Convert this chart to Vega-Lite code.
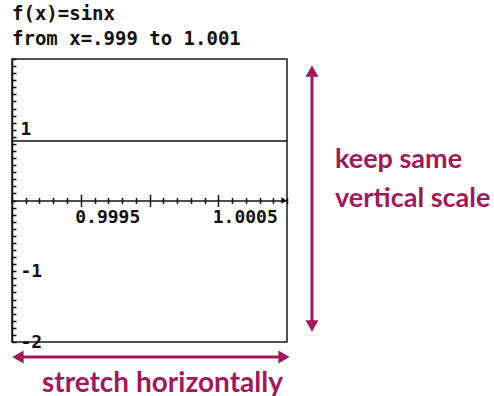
{
  "$schema": "https://vega.github.io/schema/vega-lite/v6.json",
  "autosize": {"type": "none"},
  "width": 275,
  "height": 283,
  "padding": {"left": 12, "top": 59, "right": 207, "bottom": 54},
  "background": "white",
  "title": {
    "text": "f(x)=sinx",
    "subtitle": "from x=.999 to 1.001",
    "anchor": "start",
    "frame": "group",
    "font": "DejaVu Sans Mono",
    "fontSize": 19,
    "fontWeight": "bold",
    "color": "#111",
    "subtitleFont": "DejaVu Sans Mono",
    "subtitleFontSize": 19,
    "subtitleFontWeight": "bold",
    "subtitleColor": "#111",
    "subtitlePadding": 6,
    "offset": 1
  },
  "datasets": {
    "curve": [
      {"x": 0.999, "y": 0.84093},
      {"x": 1.0, "y": 0.84147},
      {"x": 1.001, "y": 0.84201}
    ],
    "axisEnd": [{"x": 1.001, "y": 0}],
    "arrows": [
      {"x": 1.0011818, "y": 1.83, "x2": 1.0011818, "y2": -1.774},
      {"x": 0.9990436, "y": -2.212, "x2": 1.0009782, "y2": -2.212}
    ],
    "heads": [
      {"x": 1.0011818, "y": 1.83, "dir": "up"},
      {"x": 1.0011818, "y": -1.774, "dir": "down"},
      {"x": 0.9990436, "y": -2.212, "dir": "left"},
      {"x": 1.0009782, "y": -2.212, "dir": "right"}
    ],
    "sideText": [
      {"x": 1.001349, "y": 0.459, "label": "keep same"},
      {"x": 1.001349, "y": -0.092, "label": "vertical scale"}
    ],
    "bottomText": [
      {"x": 1.0000945, "y": -2.707, "label": "stretch horizontally"}
    ]
  },
  "resolve": {"axis": {"x": "independent"}},
  "layer": [
    {
      "data": {"name": "curve"},
      "mark": {"type": "line", "color": "#111", "strokeWidth": 1.5},
      "encoding": {
        "x": {
          "field": "x", "type": "quantitative",
          "scale": {"domain": [0.999, 1.001], "nice": false, "zero": false},
          "axis": {
            "orient": "bottom", "offset": -141.5, "tickCount": 50,
            "values": [0.999, 0.9991, 0.9992, 0.9993, 0.9994, 0.9995, 0.9996, 0.9997, 0.9998, 0.9999, 1.0, 1.0001, 1.0002, 1.0003, 1.0004, 1.0005, 1.0006, 1.0007, 1.0008, 1.0009, 1.001],
            "domain": true, "domainColor": "#111", "domainWidth": 1.5,
            "ticks": true, "tickColor": "#111", "tickWidth": 1.5,
            "tickSize": {"condition": {"test": "abs(datum.value-0.9995)<1e-7 || abs(datum.value-1)<1e-7 || abs(datum.value-1.0005)<1e-7", "value": 6}, "value": 3},
            "labelExpr": "abs(datum.value-0.9995)<1e-7 ? '0.9995' : abs(datum.value-1.0005)<1e-7 ? '1.0005' : ''",
            "labelAlign": "left", "labelBaseline": "top", "labelOffset": -6, "labelPadding": 2,
            "labelFlush": false, "labelOverlap": false, "labelBound": false,
            "labelFont": "DejaVu Sans Mono", "labelFontSize": 18, "labelFontWeight": "bold", "labelColor": "#111",
            "grid": false, "title": null
          }
        },
        "y": {
          "field": "y", "type": "quantitative",
          "scale": {"domain": [-2, 2], "nice": false, "zero": false},
          "axis": {
            "orient": "left", "tickCount": 100,
            "values": [-2, -1.9, -1.8, -1.7, -1.6, -1.5, -1.4, -1.3, -1.2, -1.1, -1, -0.9, -0.8, -0.7, -0.6, -0.5, -0.4, -0.3, -0.2, -0.1, 0, 0.1, 0.2, 0.3, 0.4, 0.5, 0.6, 0.7, 0.8, 0.9, 1, 1.1, 1.2, 1.3, 1.4, 1.5, 1.6, 1.7, 1.8, 1.9, 2],
            "domain": true, "domainColor": "#111", "domainWidth": 1.5,
            "ticks": true, "tickColor": "#111", "tickWidth": 1.5, "tickSize": -4,
            "labelExpr": "datum.value == 1 ? '1' : datum.value == -1 ? '-1' : datum.value == -2 ? '-2' : ''",
            "labelAlign": "left", "labelBaseline": "middle", "labelPadding": -4,
            "labelFlush": false, "labelOverlap": false, "labelBound": false,
            "labelFont": "DejaVu Sans Mono", "labelFontSize": 18, "labelFontWeight": "bold", "labelColor": "#111",
            "grid": false, "title": null
          }
        }
      }
    },
    {
      "data": {"name": "axisEnd"},
      "mark": {"type": "point", "shape": "triangle-right", "filled": true, "color": "#111", "size": 40, "opacity": 1, "xOffset": -3},
      "encoding": {
        "x": {
          "field": "x", "type": "quantitative",
          "scale": {"domain": [0.999, 1.001], "nice": false, "zero": false},
          "axis": {
            "orient": "top", "offset": -141.5, "tickCount": 50,
            "values": [0.999, 0.9991, 0.9992, 0.9993, 0.9994, 0.9995, 0.9996, 0.9997, 0.9998, 0.9999, 1.0, 1.0001, 1.0002, 1.0003, 1.0004, 1.0005, 1.0006, 1.0007, 1.0008, 1.0009, 1.001],
            "domain": false, "labels": false,
            "ticks": true, "tickColor": "#111", "tickWidth": 1.5,
            "tickSize": {"condition": {"test": "abs(datum.value-0.9995)<1e-7 || abs(datum.value-1)<1e-7 || abs(datum.value-1.0005)<1e-7", "value": 6}, "value": 3},
            "grid": false, "title": null
          }
        },
        "y": {"field": "y", "type": "quantitative", "scale": {"domain": [-2, 2], "nice": false, "zero": false}}
      }
    },
    {
      "data": {"name": "arrows"},
      "mark": {"type": "rule", "color": "#A0195B", "strokeWidth": 3},
      "encoding": {
        "x": {"field": "x", "type": "quantitative", "scale": {"domain": [0.999, 1.001], "nice": false, "zero": false}, "axis": null},
        "y": {"field": "y", "type": "quantitative", "scale": {"domain": [-2, 2], "nice": false, "zero": false}},
        "x2": {"field": "x2"},
        "y2": {"field": "y2"}
      }
    },
    {
      "data": {"name": "heads"},
      "mark": {"type": "point", "filled": true, "color": "#A0195B", "opacity": 1, "size": 170},
      "encoding": {
        "x": {"field": "x", "type": "quantitative", "scale": {"domain": [0.999, 1.001], "nice": false, "zero": false}, "axis": null},
        "y": {"field": "y", "type": "quantitative", "scale": {"domain": [-2, 2], "nice": false, "zero": false}},
        "shape": {
          "field": "dir", "type": "nominal", "legend": null,
          "scale": {"domain": ["up", "down", "left", "right"], "range": ["triangle-up", "triangle-down", "triangle-left", "triangle-right"]}
        }
      }
    },
    {
      "data": {"name": "sideText"},
      "mark": {"type": "text", "align": "left", "baseline": "alphabetic", "font": "Lato", "fontWeight": "bold", "fontSize": 27, "color": "#A0195B"},
      "encoding": {
        "x": {"field": "x", "type": "quantitative", "scale": {"domain": [0.999, 1.001], "nice": false, "zero": false}, "axis": null},
        "y": {"field": "y", "type": "quantitative", "scale": {"domain": [-2, 2], "nice": false, "zero": false}},
        "text": {"field": "label"}
      }
    },
    {
      "data": {"name": "bottomText"},
      "mark": {"type": "text", "align": "center", "baseline": "alphabetic", "font": "Lato", "fontWeight": "bold", "fontSize": 28, "color": "#A0195B"},
      "encoding": {
        "x": {"field": "x", "type": "quantitative", "scale": {"domain": [0.999, 1.001], "nice": false, "zero": false}, "axis": null},
        "y": {"field": "y", "type": "quantitative", "scale": {"domain": [-2, 2], "nice": false, "zero": false}},
        "text": {"field": "label"}
      }
    }
  ],
  "config": {
    "view": {"stroke": "#1a1a1a", "strokeWidth": 1.5}
  }
}
